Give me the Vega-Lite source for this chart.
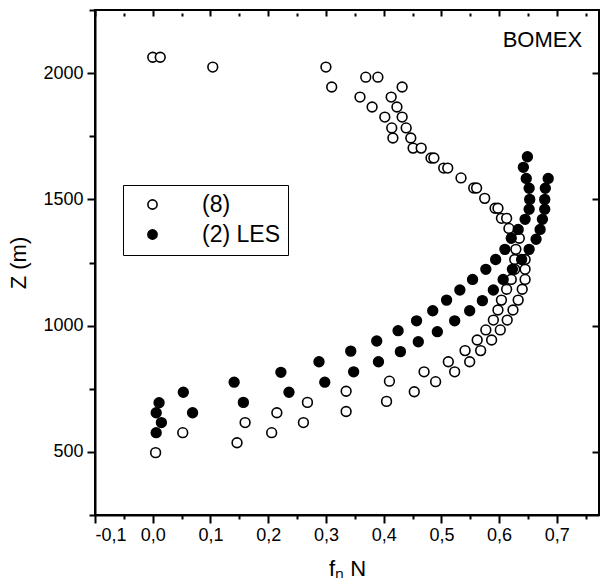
{
  "$schema": "https://vega.github.io/schema/vega-lite/v6.json",
  "width": 504,
  "height": 505,
  "autosize": {"type": "none"},
  "padding": {"left": 95, "top": 10, "right": 2, "bottom": 73},
  "background": "white",
  "config": {
    "view": {"stroke": "black", "strokeWidth": 2},
    "font": "Liberation Sans",
    "axis": {"domainColor": "black", "tickColor": "black", "labelColor": "black", "titleColor": "black", "grid": false, "domainWidth": 2, "tickWidth": 2, "labelFont": "Liberation Sans", "titleFont": "Liberation Sans"}
  },
  "datasets": {
    "pts": [
      {"x": 0.0, "z": 2063, "s": "(8)"}, {"x": 0.013, "z": 2063, "s": "(8)"}, {"x": 0.104, "z": 2024, "s": "(8)"},
      {"x": 0.30, "z": 2024, "s": "(8)"}, {"x": 0.31, "z": 1945, "s": "(8)"}, {"x": 0.369, "z": 1984, "s": "(8)"}, {"x": 0.39, "z": 1984, "s": "(8)"},
      {"x": 0.432, "z": 1945, "s": "(8)"}, {"x": 0.359, "z": 1905, "s": "(8)"}, {"x": 0.413, "z": 1905, "s": "(8)"}, {"x": 0.38, "z": 1866, "s": "(8)"},
      {"x": 0.423, "z": 1866, "s": "(8)"}, {"x": 0.402, "z": 1826, "s": "(8)"}, {"x": 0.432, "z": 1826, "s": "(8)"}, {"x": 0.414, "z": 1783, "s": "(8)"},
      {"x": 0.439, "z": 1783, "s": "(8)"}, {"x": 0.416, "z": 1743, "s": "(8)"}, {"x": 0.447, "z": 1743, "s": "(8)"}, {"x": 0.451, "z": 1703, "s": "(8)"},
      {"x": 0.465, "z": 1703, "s": "(8)"}, {"x": 0.482, "z": 1664, "s": "(8)"}, {"x": 0.487, "z": 1664, "s": "(8)"}, {"x": 0.504, "z": 1624, "s": "(8)"},
      {"x": 0.511, "z": 1624, "s": "(8)"}, {"x": 0.534, "z": 1585, "s": "(8)"}, {"x": 0.556, "z": 1545, "s": "(8)"}, {"x": 0.561, "z": 1545, "s": "(8)"},
      {"x": 0.575, "z": 1504, "s": "(8)"}, {"x": 0.593, "z": 1465, "s": "(8)"}, {"x": 0.598, "z": 1465, "s": "(8)"}, {"x": 0.604, "z": 1425, "s": "(8)"},
      {"x": 0.613, "z": 1425, "s": "(8)"}, {"x": 0.617, "z": 1385, "s": "(8)"}, {"x": 0.635, "z": 1346, "s": "(8)"}, {"x": 0.629, "z": 1302, "s": "(8)"},
      {"x": 0.627, "z": 1262, "s": "(8)"}, {"x": 0.645, "z": 1262, "s": "(8)"}, {"x": 0.627, "z": 1223, "s": "(8)"}, {"x": 0.645, "z": 1223, "s": "(8)"},
      {"x": 0.621, "z": 1183, "s": "(8)"}, {"x": 0.645, "z": 1183, "s": "(8)"}, {"x": 0.613, "z": 1144, "s": "(8)"}, {"x": 0.640, "z": 1144, "s": "(8)"},
      {"x": 0.604, "z": 1101, "s": "(8)"}, {"x": 0.633, "z": 1101, "s": "(8)"}, {"x": 0.598, "z": 1062, "s": "(8)"}, {"x": 0.624, "z": 1062, "s": "(8)"},
      {"x": 0.590, "z": 1022, "s": "(8)"}, {"x": 0.614, "z": 1022, "s": "(8)"}, {"x": 0.577, "z": 983, "s": "(8)"}, {"x": 0.602, "z": 983, "s": "(8)"},
      {"x": 0.562, "z": 943, "s": "(8)"}, {"x": 0.587, "z": 943, "s": "(8)"}, {"x": 0.541, "z": 901, "s": "(8)"}, {"x": 0.568, "z": 901, "s": "(8)"},
      {"x": 0.512, "z": 857, "s": "(8)"}, {"x": 0.549, "z": 857, "s": "(8)"}, {"x": 0.470, "z": 817, "s": "(8)"}, {"x": 0.523, "z": 817, "s": "(8)"},
      {"x": 0.490, "z": 778, "s": "(8)"}, {"x": 0.453, "z": 738, "s": "(8)"}, {"x": 0.41, "z": 780, "s": "(8)"}, {"x": 0.405, "z": 700, "s": "(8)"},
      {"x": 0.335, "z": 740, "s": "(8)"}, {"x": 0.335, "z": 660, "s": "(8)"}, {"x": 0.268, "z": 696, "s": "(8)"}, {"x": 0.261, "z": 616, "s": "(8)"},
      {"x": 0.215, "z": 655, "s": "(8)"}, {"x": 0.206, "z": 576, "s": "(8)"}, {"x": 0.16, "z": 616, "s": "(8)"}, {"x": 0.146, "z": 536, "s": "(8)"},
      {"x": 0.052, "z": 576, "s": "(8)"}, {"x": 0.005, "z": 497, "s": "(8)"},
      {"x": 0.006, "z": 576, "s": "(2) LES"}, {"x": 0.015, "z": 616, "s": "(2) LES"}, {"x": 0.006, "z": 655, "s": "(2) LES"}, {"x": 0.011, "z": 695, "s": "(2) LES"},
      {"x": 0.053, "z": 736, "s": "(2) LES"}, {"x": 0.069, "z": 655, "s": "(2) LES"}, {"x": 0.141, "z": 776, "s": "(2) LES"}, {"x": 0.157, "z": 696, "s": "(2) LES"},
      {"x": 0.222, "z": 815, "s": "(2) LES"}, {"x": 0.236, "z": 736, "s": "(2) LES"}, {"x": 0.288, "z": 857, "s": "(2) LES"}, {"x": 0.298, "z": 776, "s": "(2) LES"},
      {"x": 0.348, "z": 817, "s": "(2) LES"}, {"x": 0.343, "z": 899, "s": "(2) LES"}, {"x": 0.391, "z": 857, "s": "(2) LES"}, {"x": 0.429, "z": 897, "s": "(2) LES"},
      {"x": 0.460, "z": 936, "s": "(2) LES"}, {"x": 0.493, "z": 976, "s": "(2) LES"}, {"x": 0.523, "z": 1019, "s": "(2) LES"}, {"x": 0.549, "z": 1059, "s": "(2) LES"},
      {"x": 0.571, "z": 1099, "s": "(2) LES"}, {"x": 0.590, "z": 1141, "s": "(2) LES"}, {"x": 0.607, "z": 1183, "s": "(2) LES"}, {"x": 0.623, "z": 1223, "s": "(2) LES"},
      {"x": 0.639, "z": 1262, "s": "(2) LES"}, {"x": 0.652, "z": 1302, "s": "(2) LES"}, {"x": 0.664, "z": 1342, "s": "(2) LES"}, {"x": 0.671, "z": 1381, "s": "(2) LES"},
      {"x": 0.675, "z": 1421, "s": "(2) LES"}, {"x": 0.679, "z": 1461, "s": "(2) LES"}, {"x": 0.679, "z": 1500, "s": "(2) LES"}, {"x": 0.680, "z": 1544, "s": "(2) LES"},
      {"x": 0.685, "z": 1583, "s": "(2) LES"},
      {"x": 0.388, "z": 939, "s": "(2) LES"}, {"x": 0.425, "z": 980, "s": "(2) LES"}, {"x": 0.457, "z": 1019, "s": "(2) LES"}, {"x": 0.485, "z": 1059, "s": "(2) LES"},
      {"x": 0.509, "z": 1101, "s": "(2) LES"}, {"x": 0.532, "z": 1141, "s": "(2) LES"}, {"x": 0.554, "z": 1183, "s": "(2) LES"}, {"x": 0.577, "z": 1223, "s": "(2) LES"},
      {"x": 0.594, "z": 1262, "s": "(2) LES"}, {"x": 0.610, "z": 1302, "s": "(2) LES"}, {"x": 0.621, "z": 1346, "s": "(2) LES"}, {"x": 0.633, "z": 1381, "s": "(2) LES"},
      {"x": 0.645, "z": 1421, "s": "(2) LES"}, {"x": 0.652, "z": 1461, "s": "(2) LES"}, {"x": 0.653, "z": 1500, "s": "(2) LES"}, {"x": 0.652, "z": 1544, "s": "(2) LES"},
      {"x": 0.647, "z": 1583, "s": "(2) LES"}, {"x": 0.642, "z": 1627, "s": "(2) LES"}, {"x": 0.649, "z": 1669, "s": "(2) LES"}
    ],
    "label": [{"t": "BOMEX"}]
  },
  "layer": [
    {
      "data": {"name": "pts"},
      "mark": {"type": "point", "shape": "circle", "stroke": "black", "strokeWidth": 1.6, "opacity": 1, "fillOpacity": 1, "size": 95},
      "encoding": {
        "x": {"field": "x", "type": "quantitative",
          "scale": {"domain": [-0.1, 0.773], "nice": false, "zero": false},
          "axis": {"orient": "bottom", "values": [-0.1, -0.05, 0, 0.05, 0.1, 0.15, 0.2, 0.25, 0.3, 0.35, 0.4, 0.45, 0.5, 0.55, 0.6, 0.65, 0.7, 0.75],
            "tickSize": {"condition": {"test": "abs(datum.value * 10 - round(datum.value * 10)) < 0.001", "value": 8}, "value": 4},
            "labelPadding": 3, "labelFontSize": 18,
            "labelExpr": "abs(datum.value * 10 - round(datum.value * 10)) < 0.001 ? replace(replace(format(datum.value, '.1f'), '.', ','), '\u2212', '-') : ''",
            "title": "f\u2099 N", "titleFontSize": 22, "titleFontWeight": "normal", "titlePadding": 14}},
        "y": {"field": "z", "type": "quantitative",
          "scale": {"domain": [250, 2250], "nice": false, "zero": false},
          "axis": {"orient": "left", "values": [250, 500, 750, 1000, 1250, 1500, 1750, 2000, 2250],
            "tickSize": {"condition": {"test": "datum.value % 500 == 0", "value": 8}, "value": 6},
            "labelExpr": "datum.value % 500 == 0 ? format(datum.value, 'd') : ''",
            "labelPadding": 4, "labelFontSize": 18,
            "title": "Z (m)", "titleFontSize": 22, "titleFontWeight": "normal", "titlePadding": 12}},
        "fill": {"field": "s", "type": "nominal",
          "scale": {"domain": ["(8)", "(2) LES"], "range": ["white", "black"]},
          "legend": {"title": null, "orient": "none", "legendX": 28, "legendY": 175, "strokeColor": "black", "fillColor": "white", "padding": 8,
            "symbolType": "circle", "symbolSize": 85, "symbolStrokeColor": "black", "symbolStrokeWidth": 1.6, "symbolOffset": 10,
            "labelOffset": 38, "labelFontSize": 23, "labelFont": "Liberation Sans", "labelColor": "black", "rowPadding": 6,
            "labelExpr": "datum.label + '\u2002\u2002'"}}
      }
    },
    {
      "data": {"name": "label"},
      "mark": {"type": "text", "fontSize": 22, "font": "Liberation Sans", "color": "black", "align": "center", "baseline": "middle"},
      "encoding": {
        "x": {"datum": 0.675, "type": "quantitative", "scale": {"domain": [-0.1, 0.773], "nice": false, "zero": false},
          "axis": {"orient": "top", "values": [-0.1, -0.05, 0, 0.05, 0.1, 0.15, 0.2, 0.25, 0.3, 0.35, 0.4, 0.45, 0.5, 0.55, 0.6, 0.65, 0.7, 0.75],
            "offset": -6, "domain": false,
            "tickSize": {"condition": {"test": "abs(datum.value * 10 - round(datum.value * 10)) < 0.001", "value": 6}, "value": 3},
            "labels": false, "title": null}},
        "y": {"datum": 2131, "type": "quantitative", "scale": {"domain": [250, 2250], "nice": false, "zero": false},
          "axis": {"orient": "right", "values": [500, 1000, 1500, 2000], "offset": -7, "domain": false, "tickSize": 7, "labels": false, "title": null}},
        "text": {"field": "t"}
      }
    }
  ],
  "resolve": {"scale": {"x": "independent", "y": "independent"}}
}
